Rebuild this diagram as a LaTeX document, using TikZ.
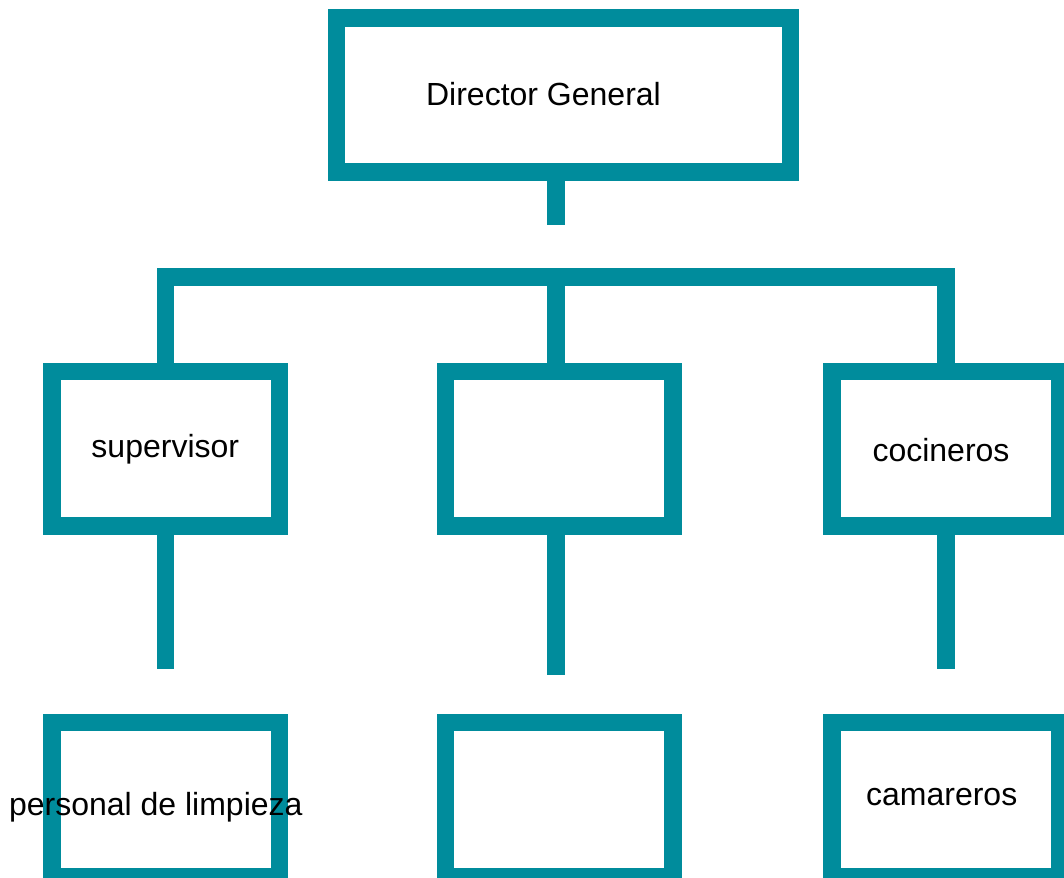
\documentclass[tikz,border=0pt]{standalone}
\usepackage{fontspec}
\setmainfont{Liberation Sans}
\definecolor{teal1}{RGB}{0,140,156}
\begin{document}
\begin{tikzpicture}[x=1pt,y=-1pt,
  box/.style={draw=teal1,line width=17.5pt,fill=white,rectangle,inner sep=0pt,
    minimum width=227.3pt,minimum height=154.5pt},
  conn/.style={draw=teal1,line width=17.5pt,line cap=butt,line join=miter},
  lbl/.style={inner sep=0pt,anchor=base,font=\fontsize{32}{38}\selectfont}]
\useasboundingbox (0,0) rectangle (1064,877);
\clip (0,0) rectangle (1064,877);
% boxes
\node[box,minimum width=454.4pt,minimum height=154.4pt] (top) at (563.5,95) {};
\node[box] (m1) at (165.85,448.5) {};
\node[box] (m2) at (559.2,448.5) {};
\node[box] (m3) at (945.8,448.5) {};
\node[box] (b1) at (165.85,799.6) {};
\node[box] (b2) at (559.2,799.6) {};
\node[box] (b3) at (945.8,799.6) {};
% coordinates
\coordinate (tc) at (556,225);
\coordinate (bar) at (556,277);
\coordinate (x1) at (165.7,0);
\coordinate (x2) at (556,0);
\coordinate (x3) at (946.2,0);
\coordinate (e1) at (165.7,669.3);
\coordinate (e2) at (556,675);
\coordinate (e3) at (946.2,669.3);
% connectors
\begin{scope}[on background layer/.try]
\end{scope}
\path[conn] (tc |- top.south) -- (tc);
\path[conn] (x1 |- m1.north) -- (x1 |- bar) -- (x3 |- bar) -- (x3 |- m3.north);
\path[conn] (bar) -- (x2 |- m2.north);
\path[conn] (x1 |- m1.south) -- (e1);
\path[conn] (x2 |- m2.south) -- (e2);
\path[conn] (x3 |- m3.south) -- (e3);
% redraw boxes over connector ends
\node[box,minimum width=454.4pt,minimum height=154.4pt,fill=none] at (top) {};
\node[box,fill=none] at (m1) {};
\node[box,fill=none] at (m2) {};
\node[box,fill=none] at (m3) {};
% labels
\node[lbl] (ltop) at (543.5,106) {Director General};
\node[lbl] (lm1) at (165.3,457) {supervisor};
\node[lbl] (lm3) at (941,461) {cocineros};
\node[lbl] (lb1) at (155.8,815.7) {personal de limpieza};
\node[lbl] (lb3) at (941.7,805) {camareros};
\end{tikzpicture}
\end{document}
